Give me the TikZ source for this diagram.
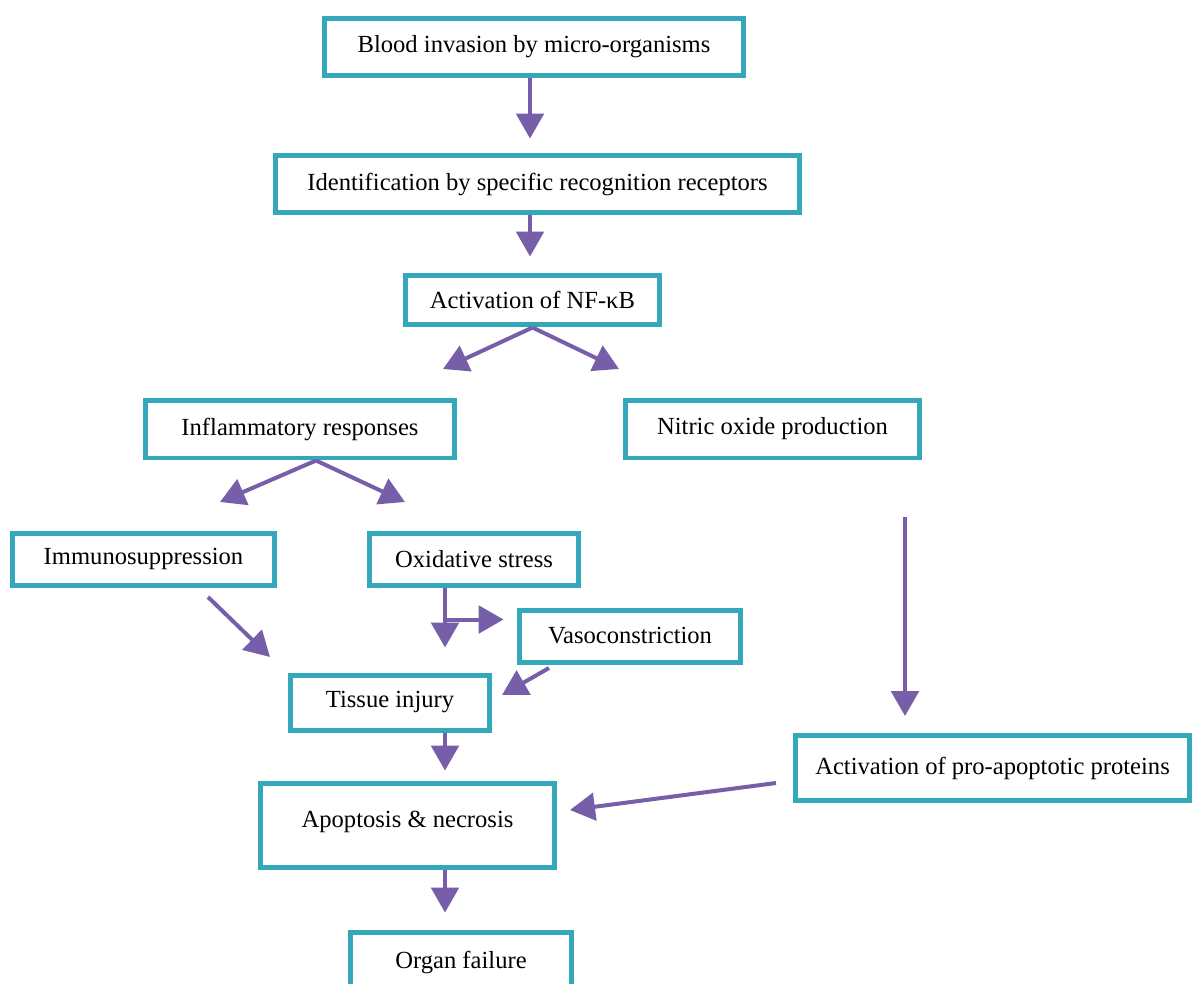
\documentclass[tikz,border=0pt]{standalone}
\usepackage{fontspec}
\setmainfont{Liberation Serif}
\usetikzlibrary{arrows.meta,positioning,calc}
\definecolor{boxteal}{RGB}{52,168,186}
\definecolor{arrpurple}{RGB}{118,94,168}

\begin{document}
\begin{tikzpicture}[x=0.02cm,y=-0.02cm]
  \tikzset{stage/.style = {shape=rectangle,draw=boxteal,line width=0.1cm,fill=white,inner sep=2pt,font=\fontsize{14}{17}\selectfont}}
  \tikzset{flow/.style = {draw=arrpurple,line width=0.08cm,-{Triangle[width=0.55cm,length=0.5cm]}}}

	\useasboundingbox[fill=white] (0,0) rectangle (1195,983);

	\node[stage,minimum width=8.4cm,minimum height=1.14cm] (blood) at (534,47) {Blood invasion by micro-organisms};
	\node[stage,minimum width=10.5cm,minimum height=1.16cm] (ident) at (537.5,184) {Identification by specific recognition receptors};
	\node[stage,minimum width=5.1cm,minimum height=1.0cm] (nfkb) at (532.5,300) {Activation of NF-κB};

	\node[stage,minimum width=6.2cm,minimum height=1.16cm] (infl) at (300,429) {Inflammatory responses};
	\node[stage,minimum width=5.9cm,minimum height=1.16cm] (nitric) at (772.5,429) {Nitric oxide production};

	\node[stage,minimum width=5.26cm,minimum height=1.04cm] (immuno) at (143.5,559) {Immunosuppression};
	\node[stage,minimum width=4.2cm,minimum height=1.04cm] (ox) at (474,559) {Oxidative stress};
	\node[stage,minimum width=4.44cm,minimum height=1.04cm] (vaso) at (630,636) {Vasoconstriction};

	\node[stage,minimum width=4.0cm,minimum height=1.1cm] (tissue) at (390,702.5) {Tissue injury};
	\node[stage,minimum width=7.9cm,minimum height=1.3cm] (proapop) at (992.5,768) {Activation of pro-apoptotic proteins};
	\node[stage,minimum width=5.9cm,minimum height=1.68cm] (apop) at (407.5,825) {\raisebox{0.24cm}{Apoptosis \& necrosis}};
	\node[stage,minimum width=4.44cm,minimum height=1.2cm] (organ) at (461,962) {Organ failure};

	% free ends of the slanted arrows
	\coordinate (topspine) at (530,0);
	\coordinate (spine) at (445,0);
	\coordinate (nospine) at (905,0);
	\coordinate (infltip) at (443,369);
	\coordinate (notip) at (619,369);
	\coordinate (immtip) at (220,502);
	\coordinate (oxtip) at (405,502);
	\coordinate (immfrom) at (208,597);
	\coordinate (tistipl) at (270,657);
	\coordinate (vasofrom) at (549,668);
	\coordinate (tistipr) at (502,695);
	\coordinate (profrom) at (776,783);
	\coordinate (apoptip) at (570,810);
	\coordinate (oxbranch) at ($(spine |- ox.south)+(0,32)$);

	\draw[flow,shorten >=0.28cm] (topspine |- blood.south) -- (topspine |- ident.north);
	\draw[flow,shorten >=0.32cm] (topspine |- ident.south) -- (topspine |- nfkb.north);

	\draw[flow] (nfkb.south) -- (infltip);
	\draw[flow] (nfkb.south) -- (notip);

	\draw[flow] ([xshift=0.32cm]infl.south) -- (immtip);
	\draw[flow] ([xshift=0.32cm]infl.south) -- (oxtip);

	\draw[flow] (immfrom) -- (tistipl);
	\draw[flow,shorten >=0.5cm] (spine |- ox.south) -- (spine |- tissue.north);
	\draw[flow,shorten >=0.26cm] (oxbranch) -- (oxbranch -| vaso.west);
	\draw[flow] (vasofrom) -- (tistipr);

	\draw[flow,shorten >=0.2cm] (spine |- tissue.south) -- (spine |- apop.north);
	\draw[flow,shorten <=1.14cm,shorten >=0.34cm] (nospine |- nitric.south) -- (nospine |- proapop.north);
	\draw[flow] (profrom) -- (apoptip);
	\draw[flow,shorten >=0.34cm] (spine |- apop.south) -- (spine |- organ.north);

\end{tikzpicture}
\end{document}
